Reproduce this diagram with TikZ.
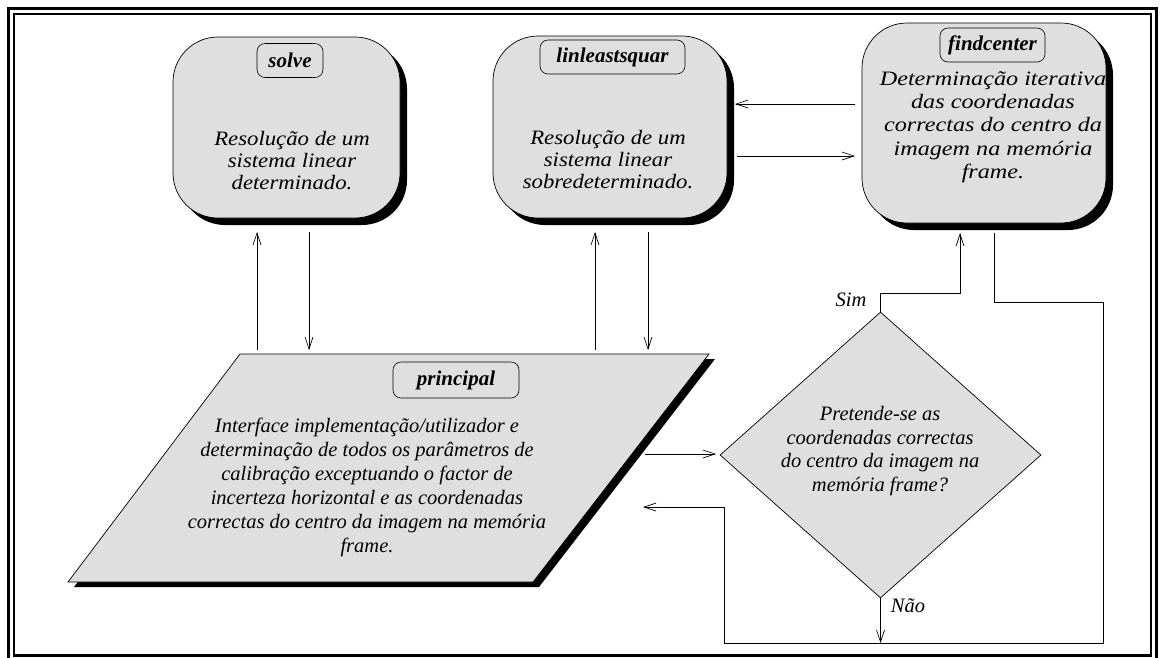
\documentclass[tikz,border=0pt]{standalone}
\usepackage{fontspec}
\setmainfont{Liberation Serif}
\newfontfamily\widefont[FakeStretch=1.18]{Liberation Serif}
\newfontfamily\medfont[FakeStretch=1.11]{Liberation Serif}
\usetikzlibrary{shapes.geometric,shadows,arrows.meta}
\definecolor{boxgray}{RGB}{223,223,223}
\begin{document}
\begin{tikzpicture}[x=1pt,y=-1pt,
  bigbox/.style={rectangle,rounded corners=45pt,draw=black,line width=0.7pt,fill=boxgray,inner sep=0pt,
     drop shadow={shadow xshift=7pt,shadow yshift=-7pt,opacity=1,fill=black}},
  lbl/.style={rectangle,rounded corners=8pt,draw=black,line width=0.6pt,fill=boxgray,inner sep=0pt,
     minimum height=34pt,font=\fontsize{21}{24}\selectfont\bfseries\itshape},
  body/.style={align=center,font=\fontsize{20.5}{23.3}\selectfont\itshape,inner sep=0pt},
  conn/.style={line width=0.7pt},
  arr/.style={conn,-{Straight Barb[length=12pt,width=8pt,line width=0.7pt]}},
  tag/.style={font=\fontsize{20.5}{23}\selectfont\itshape,inner sep=0pt},
]
\useasboundingbox (0,0) rectangle (1165,657);
% frame
\draw[line width=2.4pt] (8.5,8.5) rectangle (1156.5,661);
\draw[line width=2.4pt] (14,14) rectangle (1151,655.5);

% solve
\node[bigbox,minimum width=227pt,minimum height=181pt] (solve) at (286.5,127.5) {};
\node[lbl,minimum width=66pt] (solvelbl) at (290,60.5) {solve};
\node[body,font=\fontsize{20.5}{22}\selectfont\medfont\itshape] (solvetxt) at (292,161) {Resolução de um\\sistema linear\\determinado.};

% linleastsquar
\node[bigbox,minimum width=234pt,minimum height=182pt] (lin) at (610,127) {};
\node[lbl,minimum width=145pt] (linlbl) at (612.5,57) {linleastsquar};
\node[body,font=\fontsize{20.5}{22}\selectfont\medfont\itshape] (lintxt) at (608,160) {Resolução de um\\sistema linear\\sobredeterminado.};

% findcenter
\node[bigbox,minimum width=244pt,minimum height=200pt] (find) at (984,123) {};
\node[lbl,minimum width=105pt] (findlbl) at (992.5,45) {findcenter};
\node[body,font=\fontsize{20.5}{23.3}\selectfont\widefont\itshape] (findtxt) at (993,127)
  {Determinação iterativa\\das coordenadas\\correctas do centro da\\imagem na memória\\frame.};

% principal (parallelogram)
\coordinate (pTL) at (240,354);
\coordinate (pTR) at (709,354);
\coordinate (pBR) at (533,582);
\coordinate (pBL) at (68,582);
\fill[black] ([shift={(6,5)}]pTL) -- ([shift={(6,5)}]pTR) -- ([shift={(6,5)}]pBR) -- ([shift={(6,5)}]pBL) -- cycle;
\filldraw[fill=boxgray,draw=black,line width=0.7pt] (pTL) -- (pTR) -- (pBR) -- (pBL) -- cycle;
\node[lbl,minimum width=126pt,minimum height=36pt] (prinlbl) at (456,380) {principal};
\node[body,font=\fontsize{20.5}{24}\selectfont\itshape] (printxt) at (367,487)
  {Interface implementação/utilizador e\\determinação de todos os parâmetros de\\calibração exceptuando o factor de\\incerteza horizontal e as coordenadas\\correctas do centro da imagem na memória\\frame.};

% decision
\node[diamond,draw=black,line width=0.7pt,fill=boxgray,minimum width=321pt,minimum height=286pt,inner sep=0pt] (dec) at (880.5,455) {};
\node[body,font=\fontsize{20.5}{23.7}\selectfont\itshape] (dectxt) at (880,451)
  {Pretende-se as\\coordenadas correctas\\do centro da imagem na\\memória frame?};

% connector end points
\coordinate (fl1) at (855,104);
\coordinate (fl2) at (735,104);
\coordinate (lf1) at (737,156);
\coordinate (lf2) at (855,156);
\coordinate (ps1) at (257,350);
\coordinate (ps2) at (257,232);
\coordinate (sp1) at (309,232);
\coordinate (sp2) at (309,350);
\coordinate (pl1) at (595,350);
\coordinate (pl2) at (595,232);
\coordinate (lp1) at (648,232);
\coordinate (lp2) at (648,350);
\coordinate (pd1) at (645,454);
\coordinate (pd2) at (716,454);
\coordinate (fb1) at (994,233);
\coordinate (fb2) at (994,302);
\coordinate (fb3) at (1103,302);
\coordinate (fb4) at (1103,643);
\coordinate (fb5) at (724,643);
\coordinate (fb6) at (724,507);
\coordinate (fb7) at (643,507);
\coordinate (sim1) at (880.5,293);
\coordinate (sim2) at (960,293);
\coordinate (sim3) at (960,233);
\coordinate (nao1) at (880.5,643);

\draw[arr] (fl1) -- (fl2);
\draw[arr] (lf1) -- (lf2);
\draw[arr] (ps1) -- (ps2);
\draw[arr] (sp1) -- (sp2);
\draw[arr] (pl1) -- (pl2);
\draw[arr] (lp1) -- (lp2);
\draw[arr] (pd1) -- (pd2);
\draw[arr] (fb1) -- (fb2) -- (fb3) -- (fb4) -- (fb5) -- (fb6) -- (fb7);
\draw[arr] (dec.north) -- (sim1) -- (sim2) -- (sim3);
\draw[arr] (dec.south) -- (nao1);

\node[tag] (sim) at (851,300) {Sim};
\node[tag] (nao) at (908,606) {Não};
\end{tikzpicture}
\end{document}
